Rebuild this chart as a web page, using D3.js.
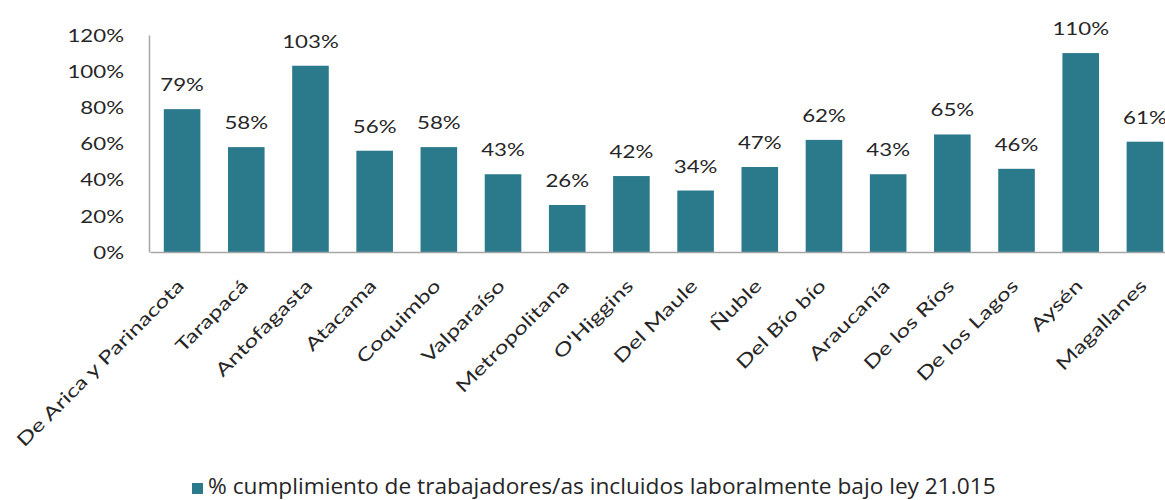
<!DOCTYPE html>
<html>
<head>
<meta charset="utf-8">
<script src="https://cdn.jsdelivr.net/npm/d3@7"></script>
<style>
  body { margin: 0; background: #fff; }
  text { font-family: Lato, "Open Sans", sans-serif; fill: #262626; }
</style>
</head>
<body>
<div id="chart"></div>
<script>
const width = 1165;
const height = 500;

const categories = ["De Arica y Parinacota", "Tarapacá", "Antofagasta", "Atacama", "Coquimbo",
  "Valparaíso", "Metropolitana", "O'Higgins", "Del Maule", "Ñuble", "Del Bío bío",
  "Araucanía", "De los Ríos", "De los Lagos", "Aysén", "Magallanes"];
const values = [0.79, 0.58, 1.03, 0.56, 0.58, 0.43, 0.26, 0.42, 0.34, 0.47, 0.62, 0.43, 0.65, 0.46, 1.10, 0.61];
const yTicks = [0, 0.2, 0.4, 0.6, 0.8, 1.0, 1.2];
const seriesName = "% cumplimiento de trabajadores/as incluidos laboralmente bajo ley 21.015";

const barColor = "#2b7a8c";
const axisColor = "#a6a6a6";
const stretch = 1.35; // the source text looks widened

const svg = d3.select("#chart").append("svg")
    .attr("width", width)
    .attr("height", height);

const x = d3.scaleBand()
    .domain(categories)
    .range([150, 1177])
    .paddingInner(0.43)
    .paddingOuter(0.215);

const y = d3.scaleLinear()
    .domain([0, 1.2])
    .range([252, 35]);

const fmt = d3.format(".0%");

// bars
svg.append("g")
  .selectAll("rect")
  .data(values)
  .join("rect")
    .attr("x", (d, i) => x(categories[i]))
    .attr("y", d => y(d))
    .attr("width", x.bandwidth())
    .attr("height", d => y(0) - y(d))
    .attr("fill", barColor);

// value labels
svg.append("g")
  .selectAll("text")
  .data(values)
  .join("text")
    .attr("transform", (d, i) => `translate(${x(categories[i]) + x.bandwidth() / 2},${y(d) - 18}) scale(${stretch},1)`)
    .attr("text-anchor", "middle")
    .style("font-size", "16.5px")
    .text(d => fmt(d));

// y axis
const yAxis = svg.append("g")
    .attr("transform", "translate(149,0)")
    .call(d3.axisLeft(y).tickValues(yTicks).tickSize(0).tickPadding(0).tickFormat(fmt));
yAxis.select(".domain").attr("stroke", axisColor).attr("stroke-width", 1.5);
yAxis.selectAll("text")
    .attr("x", null).attr("dy", null)
    .attr("transform", `translate(-25,0) scale(${stretch},1)`)
    .attr("dominant-baseline", "central")
    .style("font-size", "16.5px")
    .style("font-family", "Lato")
    .attr("fill", "#262626");

// x axis
const xAxis = svg.append("g")
    .attr("transform", `translate(0,${y(0)})`)
    .call(d3.axisBottom(x).tickSize(0).tickSizeOuter(0));
xAxis.select(".domain").attr("stroke", axisColor).attr("stroke-width", 1.5);
xAxis.selectAll("text")
    .attr("y", null).attr("dy", null)
    .attr("text-anchor", "end")
    .attr("transform", `translate(3,35) rotate(-45) scale(${stretch},1)`)
    .style("font-size", "18px")
    .style("font-family", "Lato")
    .attr("fill", "#262626");

// legend
const legend = svg.append("g").attr("transform", "translate(192,494)");
legend.append("rect")
    .attr("x", 0).attr("y", -11)
    .attr("width", 11).attr("height", 11)
    .attr("fill", barColor);
legend.append("text")
    .attr("transform", "translate(16,0) scale(1.08,1)")
    .style("font-size", "21px")
    .style("font-family", "Open Sans")
    .text(seriesName);
</script>
</body>
</html>
